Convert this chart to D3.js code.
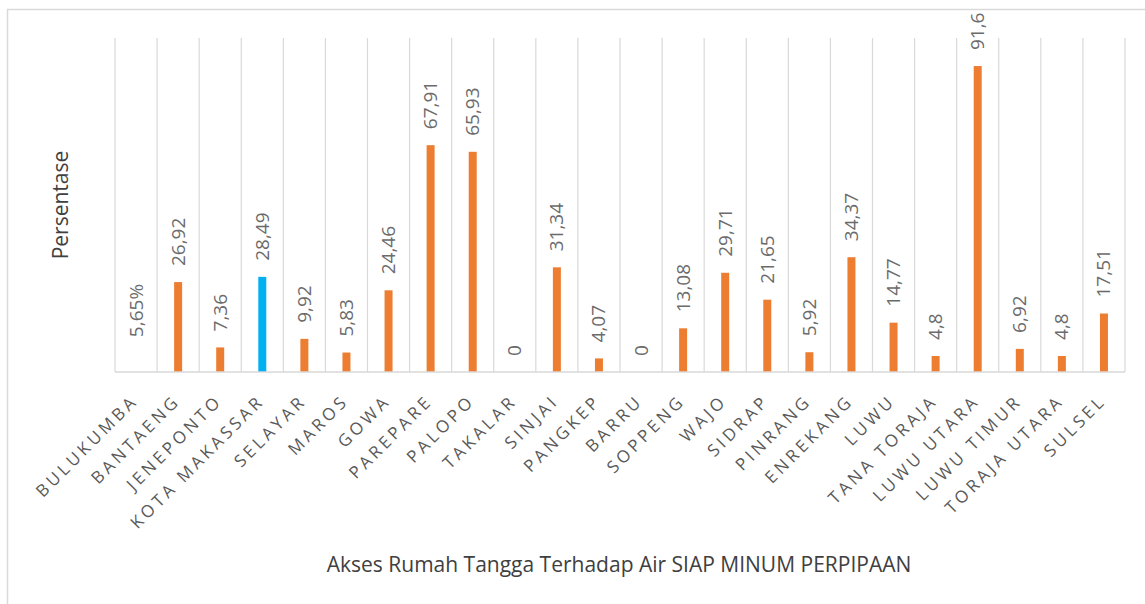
<!DOCTYPE html>
<html><head><meta charset="utf-8">
<script src="https://cdn.jsdelivr.net/npm/d3@7"></script>
<style>body{margin:0;background:#fff}text{font-family:"Open Sans","Liberation Sans",sans-serif}</style>
</head><body><svg id="c" width="1145" height="604"></svg>
<script>
const categories=["BULUKUMBA","BANTAENG","JENEPONTO","KOTA MAKASSAR","SELAYAR","MAROS","GOWA","PAREPARE","PALOPO","TAKALAR","SINJAI","PANGKEP","BARRU","SOPPENG","WAJO","SIDRAP","PINRANG","ENREKANG","LUWU","TANA TORAJA","LUWU UTARA","LUWU TIMUR","TORAJA UTARA","SULSEL"];
const values=[5.65,26.92,7.36,28.49,9.92,5.83,24.46,67.91,65.93,0,31.34,4.07,0,13.08,29.71,21.65,5.92,34.37,14.77,4.8,91.6,6.92,4.8,17.51];
const valueLabels=["5,65%","26,92","7,36","28,49","9,92","5,83","24,46","67,91","65,93","0","31,34","4,07","0","13,08","29,71","21,65","5,92","34,37","14,77","4,8","91,6","6,92","4,8","17,51"];
const barColors=categories.map((c,i)=>i===0?"none":(c==="KOTA MAKASSAR"?"#00B0F0":"#ED7D31"));
const xTitle="Akses Rumah Tangga Terhadap Air SIAP MINUM PERPIPAAN";
const yTitle="Persentase";

const svg=d3.select("#c");
svg.append("rect").attr("x",7.5).attr("y",9.5).attr("width",1150).attr("height",610).attr("fill","none").attr("stroke","#d9d9d9").attr("stroke-width",1.5);
const L=115,R=1125,T=38,B=372;
const x=d3.scaleBand().domain(categories).range([L,R]).padding(0);
const y=d3.scaleLinear().domain([0,100]).range([B,T]);
const g=svg.append("g");
const bounds=categories.map(c=>x(c)).concat([R]);
g.selectAll("line.grid").data(bounds).join("line").attr("class","grid")
 .attr("x1",d=>d).attr("x2",d=>d).attr("y1",T).attr("y2",B).attr("stroke","#d9d9d9").attr("stroke-width",1.2);
const bw=8;
g.selectAll("rect.bar").data(values).join("rect").attr("class","bar")
 .attr("x",(d,i)=>x(categories[i])+x.bandwidth()/2-bw/2).attr("width",bw)
 .attr("y",d=>y(d)).attr("height",d=>B-y(d)).attr("fill",(d,i)=>barColors[i]);
g.append("line").attr("x1",L).attr("x2",R).attr("y1",B).attr("y2",B).attr("stroke","#d9d9d9").attr("stroke-width",1.5);
g.selectAll("text.val").data(values).join("text").attr("class","val")
 .attr("transform",(d,i)=>`translate(${x(categories[i])+x.bandwidth()/2+6.5},${y(d)-16}) rotate(-90)`)
 .attr("text-anchor","start").attr("font-size",19).attr("fill","#6b6b6b").text((d,i)=>valueLabels[i]);
g.selectAll("text.cat").data(categories).join("text").attr("class","cat")
 .attr("transform",d=>`translate(${x(d)+x.bandwidth()/2+3},${B+30}) rotate(-45)`)
 .attr("text-anchor","end").attr("font-size",17).attr("letter-spacing","3.5px").attr("fill","#595959").text(d=>d);
svg.append("text").attr("x",619).attr("y",572).attr("text-anchor","middle").attr("font-size",21).attr("fill","#404040").text(xTitle);
svg.append("text").attr("transform","translate(68,205) rotate(-90)").attr("text-anchor","middle").attr("font-size",21).attr("fill","#404040").text(yTitle);
</script></body></html>
